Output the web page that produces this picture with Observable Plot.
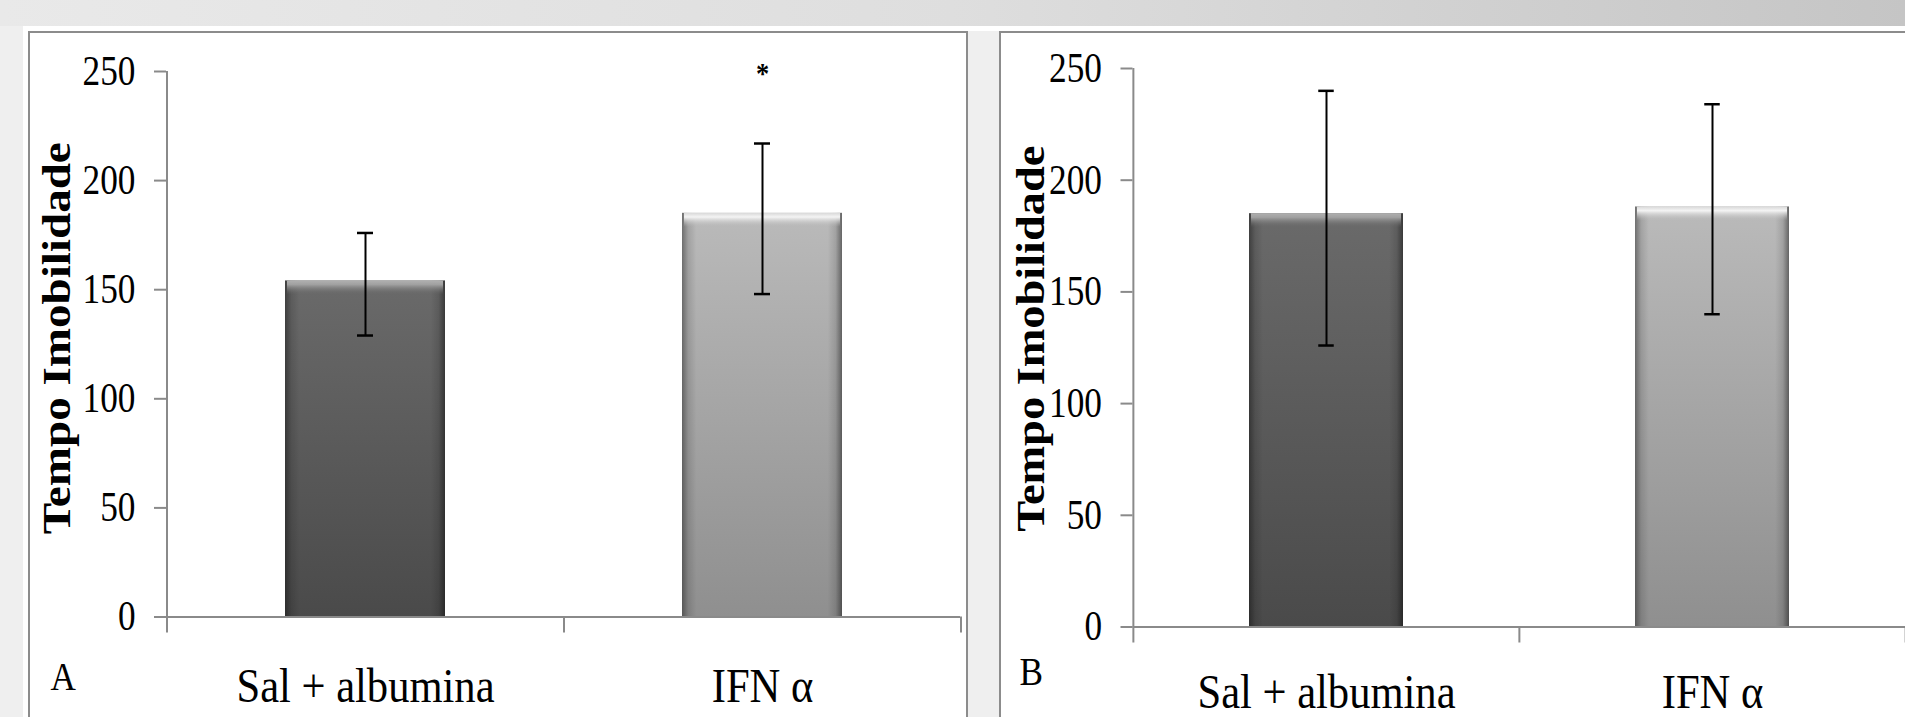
<!DOCTYPE html>
<html>
<head>
<meta charset="utf-8">
<script src="https://cdn.jsdelivr.net/npm/d3@7"></script>
<script src="https://cdn.jsdelivr.net/npm/@observablehq/plot@0.6"></script>
<style>
  html, body { margin: 0; padding: 0; }
  #page { position: relative; width: 1905px; height: 717px; overflow: hidden; background: #efefef; font-family: "Liberation Serif", "Times New Roman", serif; }
  #topstrip { position: absolute; left: 0; top: 0; width: 1905px; height: 26px; background: linear-gradient(to right, #e9e9e9 0%, #dedede 50%, #c5c5c5 100%); }
  #whiteband { position: absolute; left: 23px; top: 26px; width: 1882px; height: 5px; background: #ffffff; }
  #whiteleft { position: absolute; left: 23px; top: 26px; width: 5px; height: 700px; background: #ffffff; }
  .panel { position: absolute; top: 31px; height: 720px; background: #ffffff; border: 2px solid #8c8c8c; box-sizing: border-box; }
  #panelA { left: 28px; width: 940px; }
  #panelB { left: 999px; width: 920px; }
  .plotbox { position: absolute; top: 0; }
  #plotA { left: 0px; }
  #plotB { left: 990px; }
</style>
</head>
<body>
<div id="page">
  <div id="topstrip"></div>
  <div id="whiteband"></div>
  <div id="whiteleft"></div>
  <div class="panel" id="panelA"></div>
  <div class="panel" id="panelB"></div>
  <div class="plotbox" id="plotA"></div>
  <div class="plotbox" id="plotB"></div>
</div>
<script>
// ---- data ----
const categories = ["Sal + albumina", "IFN α"];
const yTicks = [0, 50, 100, 150, 200, 250];
const yLabel = "Tempo Imobilidade";
const panelLetters = ["A", "B"];

const meansA = [154, 185];
const upperA = [176, 217];
const lowerA = [129, 148];
const signifA = ["", "*"];

const meansB = [185, 188];
const upperB = [240, 234];
const lowerB = [126, 140];
const signifB = ["", ""];

function rows(means, upper, lower, signif) {
  return categories.map((c, i) => ({group: c, mean: means[i], hi: upper[i], lo: lower[i], sig: signif[i]}));
}

function addDefs(svg, id) {
  const defs = d3.select(svg).insert("defs", ":first-child");
  function grad(name, horizontal, stops) {
    const g = defs.append("linearGradient").attr("id", `${id}-${name}`)
      .attr("x1", 0).attr("y1", 0).attr("x2", horizontal ? 1 : 0).attr("y2", horizontal ? 0 : 1);
    stops.forEach(([o, c, op]) => g.append("stop").attr("offset", o).attr("stop-color", c).attr("stop-opacity", op ?? 1));
  }
  grad("dark", false, [[0, "#6a6a6a"], [1, "#4a4a4a"]]);
  grad("light", false, [[0, "#bababa"], [1, "#8f8f8f"]]);
  grad("sides", true, [[0, "#000", 0.4], [0.04, "#000", 0.12], [0.09, "#000", 0], [0.91, "#000", 0], [0.96, "#000", 0.12], [1, "#000", 0.45]]);
  grad("bevdark", false, [[0, "#b0b0b0"], [0.3, "#a0a0a0"], [1, "#6a6a6a", 0]]);
  grad("bevlight", false, [[0, "#d8d8d8"], [0.3, "#f4f4f4"], [1, "#bababa", 0]]);
}

function makePanel(cfg) {
  const data = rows(cfg.means, cfg.upper, cfg.lower, cfg.signif);
  const id = cfg.id;
  const step = (cfg.width - cfg.marginLeft - cfg.marginRight) / categories.length;
  const bw = step * (1 - cfg.padding);
  const capInset = (bw - 16) / 2;
  const gray = "#8a8a8a";
  const plot = Plot.plot({
    width: cfg.width,
    height: 717,
    marginLeft: cfg.marginLeft,
    marginRight: cfg.marginRight,
    marginTop: cfg.marginTop,
    marginBottom: cfg.marginBottom,
    style: {background: "transparent", fontFamily: "'Liberation Serif', 'Times New Roman', serif", color: "black", overflow: "visible"},
    x: {domain: categories, paddingInner: cfg.padding, paddingOuter: cfg.padding / 2, axis: null},
    y: {domain: [0, 250], axis: null},
    marks: [
      Plot.barY(data, {x: "group", y: "mean", filter: d => d.group === categories[0], fill: `url(#${id}-dark)`}),
      Plot.barY(data, {x: "group", y: "mean", filter: d => d.group === categories[1], fill: `url(#${id}-light)`}),
      Plot.barY(data, {x: "group", y: "mean", fill: `url(#${id}-sides)`}),
      Plot.barY(data, {x: "group", y1: "mean", y2: "mean", insetBottom: -14, insetLeft: 2, insetRight: 2, filter: d => d.group === categories[0], fill: `url(#${id}-bevdark)`}),
      Plot.barY(data, {x: "group", y1: "mean", y2: "mean", insetBottom: -14, insetLeft: 2, insetRight: 2, filter: d => d.group === categories[1], fill: `url(#${id}-bevlight)`}),
      // axis lines and category boundary ticks
      Plot.ruleY([0], {stroke: gray, strokeWidth: 2}),
      Plot.ruleX([categories[0]], {x: d => d, dx: -step / 2, y1: 250, y2: 0, insetBottom: -16, stroke: gray, strokeWidth: 2}),
      Plot.ruleX(categories.slice(1), {x: d => d, dx: -step / 2, y1: 0, y2: 0, insetBottom: -16, stroke: gray, strokeWidth: 2}),
      Plot.ruleX(categories.slice(-1), {x: d => d, dx: step / 2, y1: 0, y2: 0, insetBottom: -16, stroke: gray, strokeWidth: 2}),
      Plot.axisY(yTicks, {tickSize: 12, tickPadding: 19, fontSize: 42, stroke: gray, strokeWidth: 2, fill: "black", label: null, tickFormat: d => String(d)}),
      Plot.axisX({tickSize: 0, tickPadding: cfg.xPad, fontSize: 48, fill: "black", label: null}),
      // error bars
      Plot.ruleX(data, {x: "group", y1: "lo", y2: "hi", stroke: "black", strokeWidth: 2}),
      Plot.tickY(data, {x: "group", y: "hi", insetLeft: capInset, insetRight: capInset, stroke: "black", strokeWidth: 2.5}),
      Plot.tickY(data, {x: "group", y: "lo", insetLeft: capInset, insetRight: capInset, stroke: "black", strokeWidth: 2.5}),
      // significance
      Plot.text(data, {x: "group", y: 250, text: "sig", fontSize: 30, fontWeight: "bold", dy: 2, fill: "black"}),
      // y title
      Plot.text([yLabel], {text: d => d, frameAnchor: "left", rotate: -90, textAnchor: "start", dx: cfg.titleDx, dy: cfg.titleDy + cfg.titleLength / 2, fontSize: 40, fontWeight: "bold", fill: "black"}),
      // panel letter
      Plot.text([cfg.letter], {text: d => d, frameAnchor: "bottom-left", textAnchor: "start", dx: cfg.letterDx, dy: cfg.letterDy, fontSize: 40, fill: "black"})
    ]
  });
  document.getElementById(cfg.container).appendChild(plot);
  addDefs(plot, id);
  // condense the serif text as in the original picture
  d3.select(plot).selectAll("text").each(function () {
    const t = this.textContent;
    if (!t) return;
    if (t === yLabel) {
      this.setAttribute("textLength", cfg.titleLength);
    } else {
      const len = this.getComputedTextLength();
      const f = categories.includes(t) ? 0.887 : (/^\d+$/.test(t) ? 0.84 : 0.88);
      this.setAttribute("textLength", (len * f).toFixed(1));
    }
    this.setAttribute("lengthAdjust", "spacingAndGlyphs");
  });
}

makePanel({
  id: "pa", container: "plotA", width: 968,
  marginLeft: 166, marginRight: 8, marginTop: 71, marginBottom: 100.5,
  padding: 0.597, xPad: 51,
  means: meansA, upper: upperA, lower: lowerA, signif: signifA,
  titleDx: -109, titleDy: -6, titleLength: 392,
  letter: panelLetters[0], letterDx: -116, letterDy: 73
});
makePanel({
  id: "pb", container: "plotB", width: 915,
  marginLeft: 142.5, marginRight: 0, marginTop: 68, marginBottom: 90.5,
  padding: 0.6, xPad: 47,
  means: meansB, upper: upperB, lower: lowerB, signif: signifB,
  titleDx: -102, titleDy: -9, titleLength: 386,
  letter: panelLetters[1], letterDx: -113.5, letterDy: 58
});
</script>
</body>
</html>
